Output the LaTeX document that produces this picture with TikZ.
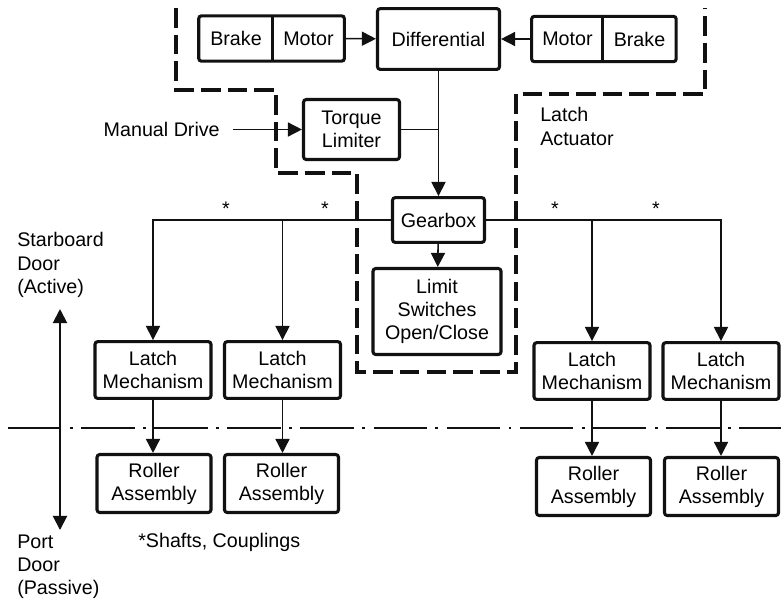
\documentclass[tikz,border=0pt]{standalone}
\usepackage{fontspec}
\setmainfont{Liberation Sans}
\usepackage{tikz}
\usetikzlibrary{arrows.meta, positioning, calc}
\definecolor{inkblack}{HTML}{111111}
\tikzset{
  blockbox/.style={rounded corners=2pt, draw=inkblack, line width=2.2pt, align=center, inner sep=2pt},
  partbox/.style={inner sep=2pt, align=center, minimum height=1.12cm},
  partframe/.style={rounded corners=2pt, draw=inkblack, line width=2.2pt},
  latchbox/.style={blockbox, minimum width=2.9cm, minimum height=1.42cm},
  rollerbox/.style={blockbox, minimum width=2.85cm, minimum height=1.45cm},
  flowarrow/.style={-{Triangle[length=10pt, width=10pt]}, line width=1.1pt, inkblack},
  doorarrow/.style={{Triangle[length=10pt, width=10pt]}-{Triangle[length=10pt, width=10pt]}, line width=1.4pt, inkblack},
  flowline/.style={line width=1.1pt, inkblack},
  actuatorline/.style={line width=2.2pt, inkblack, dash pattern=on 14pt off 5pt},
  doorline/.style={line width=1.4pt, inkblack, dash pattern=on 38pt off 6pt on 2pt off 6pt},
  noteword/.style={align=left, inner sep=0pt},
}

\begin{document}
\begin{tikzpicture}[x=0.025cm, y=-0.025cm, font=\fontsize{14}{16.5}\selectfont]
  \useasboundingbox (0,0) rectangle (781,607);

  % drive train
  \node[partbox, minimum width=1.85cm] (BL) at (236,38.5) {Brake};
  \node[partbox, minimum width=1.78cm] (ML) at (308.5,38.5) {Motor};
  \node[blockbox, minimum width=3.05cm, minimum height=1.52cm] (D) at (438.5,39) {Differential};
  \node[partbox, minimum width=1.78cm] (MR) at (567.5,39) {Motor};
  \node[partbox, minimum width=1.82cm] (BR) at (639.5,39) {Brake};
  \draw[partframe] (BL.south west) rectangle (ML.north east);
  \draw[partframe] (MR.south west) rectangle (BR.north east);
  \draw[line width=2.2pt, inkblack] (ML.north west) -- (ML.south west);
  \draw[line width=2.2pt, inkblack] (BR.north west) -- (BR.south west);

  \node[blockbox, minimum width=2.4cm, minimum height=1.5cm] (T) at (351.5,129.5) {Torque\\Limiter};
  \node[noteword, anchor=east] (MD) at (220,129.5) {Manual Drive};
  \node[blockbox, minimum width=2.3cm, minimum height=1.12cm] (G) at (438.5,220) {Gearbox};
  \node[blockbox, minimum width=3.2cm, minimum height=2.15cm] (LS) at (437,311.5) {Limit\\Switches\\Open/Close};
  \node[noteword, anchor=west] (LA) at (540,126.5) {Latch\\Actuator};

  % latches and rollers
  \node[latchbox] (L1) at (153,370) {Latch\\Mechanism};
  \node[latchbox] (L2) at (282.5,370) {Latch\\Mechanism};
  \node[latchbox] (L3) at (592,371) {Latch\\Mechanism};
  \node[latchbox] (L4) at (721,371) {Latch\\Mechanism};
  \node[rollerbox] (R1) at (154,483.5) {Roller\\Assembly};
  \node[rollerbox] (R2) at (281.5,483.5) {Roller\\Assembly};
  \node[rollerbox] (R3) at (593.5,486.5) {Roller\\Assembly};
  \node[rollerbox] (R4) at (721.5,486.5) {Roller\\Assembly};

  \foreach \x/\n in {226/1, 325/2, 555/3, 656/4}
    \node[inner sep=0pt] (star\n) at (\x,209) {*};

  % door labels
  \node[noteword, anchor=west] (SD) at (17,265) {Starboard\\Door\\(Active)};
  \node[noteword, anchor=west] (PD) at (17,567) {Port\\Door\\(Passive)};
  \node[noteword, anchor=west] (NT) at (138,542) {*Shafts, Couplings};
  \coordinate (DT) at (60,309);
  \coordinate (DB) at (60,530);
  \draw[doorarrow] (DT) -- (DB);

  % boundaries
  \draw[actuatorline] (176,8) |- (276,90) |- (357,173) |- (516,372) |- (705,94) -- (705,8);
  \draw[doorline] (8,428) -- (781,428);

  % connectors
  \draw[flowarrow] (ML) -- (D);
  \draw[flowarrow] (MR) -- (D);
  \draw[flowarrow] (D) -- (G);
  \draw[flowline] (T.east) -- (T.east -| D.south);
  \draw[flowarrow, shorten <=9pt] (MD.east) -- (T.west);
  \draw[flowarrow] (G) -- (LS);
  \draw[flowarrow] (G.west) -| (L1.north);
  \draw[flowarrow] (G.west) -| (L2.north);
  \draw[flowarrow] (G.east) -| (L3.north);
  \draw[flowarrow] (G.east) -| (L4.north);
  \foreach \i in {1,...,4}
    \draw[flowarrow] (L\i.south) -- (L\i.south |- R\i.north);
\end{tikzpicture}
\end{document}
